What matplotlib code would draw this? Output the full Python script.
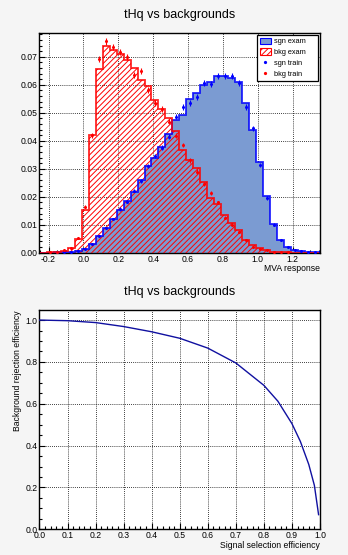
import numpy as np
import matplotlib.pyplot as plt
from matplotlib.patches import Patch
from matplotlib.lines import Line2D
from matplotlib.ticker import MultipleLocator, FormatStrFormatter

plt.rcParams["font.family"] = ["Liberation Sans", "DejaVu Sans"]
plt.rcParams["hatch.linewidth"] = 0.7

# MVA response histogram, 40 bins from -0.25 to 1.35
bin_edges = np.linspace(-0.25, 1.35, 41)

sgn_exam = [0.0, 0.0, 0.0001, 0.0002, 0.0003, 0.0006, 0.0013, 0.003, 0.006, 0.009,
            0.0122, 0.0154, 0.0183, 0.0218, 0.0258, 0.031, 0.034, 0.0378, 0.0425, 0.0474,
            0.0492, 0.0548, 0.057, 0.060, 0.061, 0.0632, 0.0632, 0.0624, 0.061, 0.0536,
            0.0438, 0.0324, 0.0201, 0.0101, 0.0044, 0.002, 0.001, 0.0005, 0.0003, 0.0002]

bkg_exam = [0.0, 0.0002, 0.0003, 0.0006, 0.0016, 0.0048, 0.0152, 0.0421, 0.0658, 0.0737,
            0.0725, 0.071, 0.069, 0.066, 0.0616, 0.0595, 0.0547, 0.0513, 0.0483, 0.0435,
            0.0367, 0.0332, 0.0302, 0.0251, 0.0195, 0.0173, 0.0136, 0.0106, 0.008, 0.0047,
            0.0027, 0.0016, 0.0008, 0.0004, 0.0002, 0.0001, 0.0, 0.0, 0.0, 0.0]

sgn_train = [0.0, 0.0, 0.0001, 0.0002, 0.0002, 0.0005, 0.0012, 0.0032, 0.0059, 0.0088,
             0.012, 0.0156, 0.0182, 0.0222, 0.0256, 0.031, 0.0345, 0.0375, 0.0415, 0.0486,
             0.0521, 0.0534, 0.0557, 0.0607, 0.0602, 0.0631, 0.0631, 0.0631, 0.0607, 0.0521,
             0.0444, 0.0314, 0.0195, 0.010, 0.0044, 0.002, 0.001, 0.0005, 0.0003, 0.0002]

bkg_train = [0.0, 0.0002, 0.0003, 0.0008, 0.0015, 0.0051, 0.0164, 0.042, 0.0692, 0.0755,
             0.0735, 0.0717, 0.070, 0.0636, 0.0648, 0.0582, 0.0536, 0.0513, 0.0468, 0.0418,
             0.0385, 0.033, 0.029, 0.0245, 0.0213, 0.018, 0.0125, 0.010, 0.0075, 0.0045,
             0.0022, 0.0014, 0.0008, 0.0004, 0.0002, 0.0001, 0.0, 0.0, 0.0, 0.0]

# ROC curve
sig_eff = [0.0, 0.1, 0.2, 0.3, 0.4, 0.5, 0.6, 0.7, 0.8, 0.85, 0.9, 0.93, 0.96, 0.98, 0.995]
bkg_rej = [1.0, 0.997, 0.988, 0.969, 0.944, 0.913, 0.866, 0.795, 0.688, 0.612, 0.505,
           0.42, 0.31, 0.21, 0.07]

TITLE = "tHq vs backgrounds"
BLUE_FILL = "#7b9bd2"
BLUE = "#0000ff"
RED = "#ff0000"
HATCH = "//////"


def style_axes(ax):
    """ROOT-like frame: inward ticks, dotted grid under the data."""
    ax.tick_params(which="both", direction="in", top=False, right=False,
                   labelsize=6.2, width=0.8, pad=1.5)
    ax.tick_params(which="major", length=4.3)
    ax.tick_params(which="minor", length=2.3)
    ax.grid(True, which="major", linestyle=(0, (1, 1.5)), color="black", linewidth=0.6)
    ax.set_axisbelow(True)
    for s in ax.spines.values():
        s.set_linewidth(1.0)


def draw_train(ax, values, color):
    centers = 0.5 * (bin_edges[:-1] + bin_edges[1:])
    v = np.array(values)
    keep = v > 0
    err = 0.0044 * np.sqrt(v[keep])
    ax.errorbar(centers[keep], v[keep], yerr=err, fmt="o", color=color,
                markersize=1.2, elinewidth=0.8, capsize=0, zorder=6)


fig = plt.figure(figsize=(3.48, 5.55), dpi=100, facecolor="#f5f5f5")

# top panel: MVA response
ax1 = fig.add_axes([0.1135, 0.5447, 0.806, 0.3953])
ax1.stairs(sgn_exam, bin_edges, fill=True, color=BLUE_FILL, linewidth=0, zorder=2)
ax1.stairs(bkg_exam, bin_edges, fill=True, facecolor="none", edgecolor=RED,
           hatch=HATCH, linewidth=0, zorder=3)
ax1.stairs(sgn_exam, bin_edges, color=BLUE, linewidth=1.3, alpha=0.85, zorder=4)
ax1.stairs(bkg_exam, bin_edges, color=RED, linewidth=1.3, alpha=0.85, zorder=5)
draw_train(ax1, sgn_train, BLUE)
draw_train(ax1, bkg_train, RED)

ax1.set_xlim(-0.252, 1.356)
ax1.set_ylim(0, 0.0784)
ax1.xaxis.set_major_locator(MultipleLocator(0.2))
ax1.xaxis.set_minor_locator(MultipleLocator(0.05))
ax1.xaxis.set_major_formatter(FormatStrFormatter("%.1f"))
ax1.yaxis.set_major_locator(MultipleLocator(0.01))
ax1.yaxis.set_minor_locator(MultipleLocator(0.002))
ax1.yaxis.set_major_formatter(FormatStrFormatter("%.2f"))
style_axes(ax1)
ax1.set_facecolor("white")

handles = [
    Patch(facecolor=BLUE_FILL, edgecolor=BLUE, linewidth=0.8),
    Patch(facecolor="white", edgecolor=RED, hatch=HATCH, linewidth=0.8),
    Line2D([], [], marker="o", color=BLUE, linestyle="none", markersize=1.3),
    Line2D([], [], marker="o", color=RED, linestyle="none", markersize=1.3),
]
leg = ax1.legend(handles, ["sgn exam", "bkg exam", "sgn train", "bkg train"],
                 loc="upper left",
                 bbox_to_anchor=(257 / 348, 1 - 79 / 555, 61 / 348, 44 / 555),
                 bbox_transform=fig.transFigure, mode="expand", fontsize=5.3,
                 frameon=True, fancybox=False, framealpha=1, edgecolor="black",
                 handlelength=1.6, handleheight=1.0, handletextpad=0.35,
                 borderpad=0.35, labelspacing=0.42, borderaxespad=0)
leg.get_frame().set_linewidth(0.9)
leg.set_zorder(10)

fig.text(0.5175, 1 - 15 / 555, TITLE, ha="center", va="center", fontsize=9)
fig.text(320 / 348, 1 - 269 / 555, "MVA response", ha="right", va="center", fontsize=6.2)

# bottom panel: ROC curve
ax2 = fig.add_axes([0.1135, 0.0463, 0.806, 0.3951])
ax2.plot(sig_eff, bkg_rej, color="#1010a0", linewidth=1.0, zorder=3)
ax2.set_xlim(0, 1)
ax2.set_ylim(0, 1.048)
ax2.xaxis.set_major_locator(MultipleLocator(0.1))
ax2.xaxis.set_minor_locator(MultipleLocator(0.02))
ax2.xaxis.set_major_formatter(FormatStrFormatter("%.1f"))
ax2.yaxis.set_major_locator(MultipleLocator(0.2))
ax2.yaxis.set_minor_locator(MultipleLocator(0.05))
ax2.yaxis.set_major_formatter(FormatStrFormatter("%.1f"))
style_axes(ax2)
ax2.set_facecolor("white")

fig.text(0.5175, 1 - 292 / 555, TITLE, ha="center", va="center", fontsize=9)
fig.text(320 / 348, 1 - 545 / 555, "Signal selection efficiency", ha="right",
         va="center", fontsize=6.2)
fig.text(18 / 348, 1 - 310 / 555, "Background rejection efficiency", rotation=90,
         ha="center", va="top", fontsize=6.2)

fig.savefig("out.png", dpi=100, facecolor=fig.get_facecolor())
